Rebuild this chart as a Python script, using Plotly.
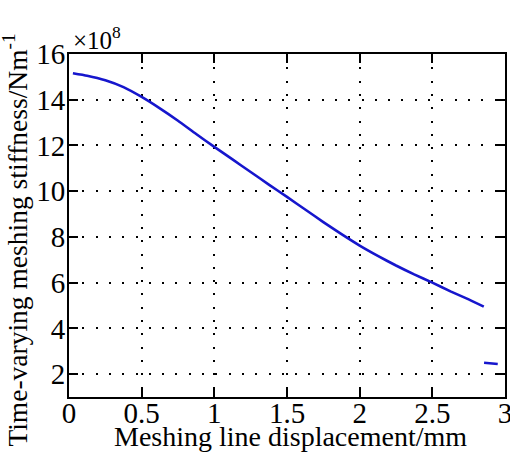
import plotly.graph_objects as go

# Meshing line displacement (mm) and stiffness (x1e8 N/m), double-tooth zone
disp_main = [0.027, 0.125, 0.25, 0.375, 0.5, 0.625, 0.75, 0.875, 1.0, 1.125, 1.25, 1.375,
             1.5, 1.625, 1.75, 1.875, 2.0, 2.125, 2.25, 2.375, 2.5, 2.625, 2.75, 2.854]
stiff_main = [15.16, 15.05, 14.85, 14.55, 14.12, 13.62, 13.08, 12.5, 11.94, 11.39, 10.84, 10.29,
              9.75, 9.2, 8.65, 8.12, 7.62, 7.17, 6.75, 6.36, 6.0, 5.62, 5.27, 4.95]

# Short segment near the end of the meshing line
disp_tail = [2.856, 2.95]
stiff_tail = [2.5, 2.44]

x_ticks = [0, 0.5, 1, 1.5, 2, 2.5, 3]
x_tick_text = ["0", "0.5", "1", "1.5", "2", "2.5", "3"]
y_ticks = [2, 4, 6, 8, 10, 12, 14, 16]

x_title = "Meshing line displacement/mm"
y_title = "Time-varying meshing stiffness/Nm<sup>-1</sup>"
scale_label = "×10<sup>8</sup>"

line_color = "rgb(22,22,205)"
serif = "'Liberation Serif', serif"

fig = go.Figure()
fig.add_trace(go.Scatter(x=disp_main, y=stiff_main, mode="lines",
                         line=dict(color=line_color, width=2.6, shape="spline", smoothing=0.5),
                         showlegend=False))
fig.add_trace(go.Scatter(x=disp_tail, y=stiff_tail, mode="lines",
                         line=dict(color=line_color, width=2.6),
                         showlegend=False))

axis_common = dict(
    showline=True, linecolor="black", linewidth=2, mirror="ticks",
    ticks="inside", ticklen=9, tickwidth=2, tickcolor="black",
    showgrid=True, gridcolor="black", gridwidth=2, griddash="2px,11.3px",
    zeroline=False, automargin=False, ticklabeloverflow="allow",
    tickfont=dict(family=serif, size=29, color="black"),
)

fig.update_xaxes(range=[0, 3], tickvals=x_ticks, ticktext=x_tick_text,
                 ticklabelstandoff=-11, **axis_common)
fig.update_yaxes(range=[1, 16], tickvals=y_ticks, ticklabelstandoff=-4, **axis_common)

# Axis titles placed as annotations for precise positioning
fig.add_annotation(x=0.507, y=0, xref="paper", yref="paper", xanchor="center", yanchor="top",
                   text=x_title, showarrow=False, yshift=-22,
                   font=dict(family=serif, size=28, color="black"))
fig.add_annotation(x=-0.123, y=0.457, xref="paper", yref="paper", xanchor="center", yanchor="middle",
                   text=y_title, showarrow=False, textangle=-90,
                   font=dict(family=serif, size=27.5, color="black"))
fig.add_annotation(x=0, y=1, xref="paper", yref="paper", xanchor="left", yanchor="bottom",
                   text=scale_label, showarrow=False, xshift=2, yshift=-2,
                   font=dict(family=serif, size=25, color="black"))

fig.update_layout(
    width=510, height=453,
    margin=dict(l=69, r=5, t=54, b=56),
    paper_bgcolor="white", plot_bgcolor="white",
    font=dict(family=serif, color="black"),
)

fig.write_html("out.html")
